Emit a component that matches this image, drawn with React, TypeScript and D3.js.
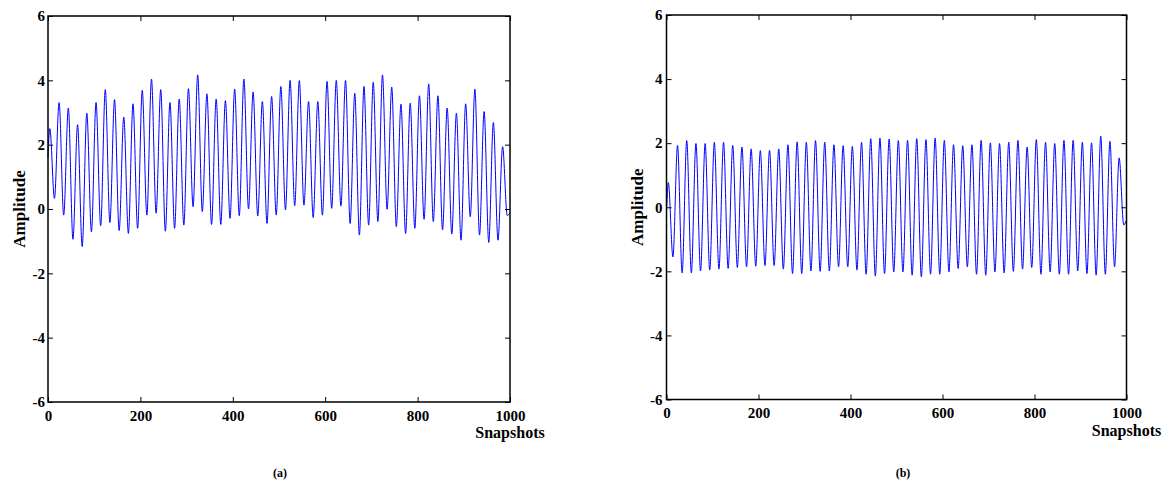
import React, { useRef, useEffect } from 'react';
import * as d3 from 'd3';

// snapshot axis: one cycle every 20 snapshots, first crest near 4, troughs 10 later
const PERIOD = 20;
const FIRST_PEAK = 4;
const X_TICKS = [0, 200, 400, 600, 800, 1000];
const Y_TICKS = [-6, -4, -2, 0, 2, 4, 6];

// panel (a): crest / trough values, one per cycle
const peaksA = [
  2.5, 3.31, 3.14, 2.62, 2.98, 3.31, 3.71, 3.4, 2.86, 3.27, 3.69, 4.04, 3.71,
  3.31, 3.42, 3.74, 4.17, 3.58, 3.42, 3.37, 3.73, 4.04, 3.64, 3.34, 3.5,
  3.81, 4.0, 3.99, 3.34, 3.34, 3.97, 4.0, 4.0, 3.6, 3.81, 3.94, 4.17, 3.79,
  3.26, 3.29, 3.52, 3.89, 3.52, 3.14, 2.98, 3.27, 3.73, 3.03, 2.69, 1.94,
];
const troughsA = [
  0.33, -0.19, -0.94, -1.17, -0.71, -0.52, -0.42, -0.67, -0.76, -0.6, -0.19, -0.13,
  -0.69, -0.6, -0.5, 0.07, -0.08, -0.48, -0.48, -0.29, -0.21, 0.0, -0.22, -0.45, -0.19,
  -0.03, 0.1, 0.12, -0.27, -0.19, 0.02, 0.09, -0.45, -0.81, -0.5, -0.39, -0.01, -0.55,
  -0.76, -0.6, -0.32, -0.39, -0.65, -0.78, -0.97, -0.24, -0.81, -1.04, -0.97, -0.2,
];
const startA = 1.6;
const endA = -0.12;

// panel (b)
const peaksB = [
  0.77, 1.93, 2.08, 1.99, 1.99, 2.03, 2.03, 1.93, 1.88, 1.82, 1.77, 1.78, 1.82,
  1.95, 2.04, 2.03, 2.08, 2.03, 1.95, 1.92, 1.9, 2.03, 2.14, 2.16, 2.13, 2.08,
  2.09, 2.14, 2.11, 2.16, 2.09, 1.95, 1.92, 1.95, 2.09, 2.01, 1.99, 2.03,
  2.09, 1.88, 2.11, 2.03, 1.99, 2.09, 2.09, 2.03, 2.01, 2.22, 2.06, 1.54,
];
const troughsB = [
  -1.55, -2.05, -2.05, -1.99, -1.96, -1.93, -1.91, -1.88, -1.86, -1.84, -1.82, -1.82,
  -1.93, -2.07, -2.07, -1.99, -2.0, -1.99, -1.86, -1.86, -1.96, -2.09, -2.15, -2.07, -2.02,
  -2.02, -2.12, -2.17, -2.09, -2.09, -2.02, -1.91, -1.86, -2.09, -2.12, -2.02, -2.05, -2.0,
  -1.93, -1.88, -2.09, -2.02, -2.09, -2.09, -1.99, -2.07, -2.12, -2.09, -1.86, -0.55,
];
const startB = -0.14;
const endB = -0.4;

const FONT = "'Liberation Serif', 'Times New Roman', serif";

function buildSeries(peaks: number[], troughs: number[], start: number, end: number) {
  const pts: [number, number][] = [[0, start]];
  peaks.forEach((p, i) => {
    pts.push([FIRST_PEAK + i * PERIOD, p]);
    pts.push([FIRST_PEAK + i * PERIOD + PERIOD / 2, troughs[i]]);
  });
  pts.push([1000, end]);
  return pts;
}

function Panel({ left, right, top, bottom, yPad, series, label, labelX, ampX }: any) {
  const gRef = useRef<SVGGElement>(null);

  useEffect(() => {
    const g = d3.select(gRef.current);
    g.selectAll('*').remove();

    const x = d3.scaleLinear().domain([0, 1000]).range([left, right]);
    const y = d3.scaleLinear().domain([-6, 6]).range([bottom, top]);

    // signal
    const line = d3.line<[number, number]>()
      .x(d => x(d[0]))
      .y(d => y(d[1]))
      .curve(d3.curveMonotoneX);

    g.append('path')
      .datum(series)
      .attr('d', line)
      .attr('fill', 'none')
      .attr('stroke', '#0000ff')
      .attr('stroke-width', 1);

    // axes, ticks pointing inwards on every side
    const styleAxis = (sel: any) => {
      sel.select('.domain').remove();
      sel.selectAll('.tick line').attr('stroke', '#000').attr('stroke-width', 1);
      sel.selectAll('.tick text')
        .attr('fill', '#000')
        .style('font-family', FONT)
        .style('font-weight', 'bold')
        .style('font-size', '15px');
    };
    const plain = (d: any) => String(d);

    g.append('g')
      .attr('transform', `translate(${left},0)`)
      .call(d3.axisLeft(y).tickValues(Y_TICKS).tickSize(-5).tickPadding(yPad).tickFormat(plain))
      .call(styleAxis);
    g.append('g')
      .attr('transform', `translate(${right},0)`)
      .call(d3.axisRight(y).tickValues(Y_TICKS).tickSize(-5).tickFormat(() => ''))
      .call(styleAxis);
    g.append('g')
      .attr('transform', `translate(0,${bottom})`)
      .call(d3.axisBottom(x).tickValues(X_TICKS).tickSize(-5).tickPadding(8).tickFormat(plain))
      .call(styleAxis);
    g.append('g')
      .attr('transform', `translate(0,${top})`)
      .call(d3.axisTop(x).tickValues(X_TICKS).tickSize(-5).tickFormat(() => ''))
      .call(styleAxis);

    // frame
    g.append('rect')
      .attr('x', left)
      .attr('y', top)
      .attr('width', right - left)
      .attr('height', bottom - top)
      .attr('fill', 'none')
      .attr('stroke', '#000')
      .attr('stroke-width', 1.5);

    g.append('text')
      .attr('x', right)
      .attr('y', bottom + 36)
      .attr('text-anchor', 'middle')
      .style('font-family', FONT)
      .style('font-weight', 'bold')
      .style('font-size', '16px')
      .text('Snapshots');

    g.append('text')
      .attr('transform', `translate(${ampX},${(top + bottom) / 2}) rotate(-90)`)
      .attr('text-anchor', 'middle')
      .style('font-family', FONT)
      .style('font-weight', 'bold')
      .style('font-size', '17px')
      .text('Amplitude');

    g.append('text')
      .attr('x', labelX)
      .attr('y', 477)
      .attr('text-anchor', 'middle')
      .style('font-family', FONT)
      .style('font-weight', 'bold')
      .style('font-size', '12px')
      .text(label);
  }, [left, right, top, bottom, series]);

  return <g ref={gRef} />;
}

export default function App() {
  const seriesA = buildSeries(peaksA, troughsA, startA, endA);
  const seriesB = buildSeries(peaksB, troughsB, startB, endB);
  return (
    <svg
      width={1167}
      height={483}
      style={{ position: 'absolute', left: 0, top: 0, background: '#fff' }}
    >
      <Panel left={48} right={510} top={16} bottom={402} yPad={3}
        series={seriesA} label="(a)" labelX={280} ampX={25} />
      <Panel left={666.5} right={1126.5} top={15} bottom={399.5} yPad={4}
        series={seriesB} label="(b)" labelX={903} ampX={643} />
    </svg>
  );
}
